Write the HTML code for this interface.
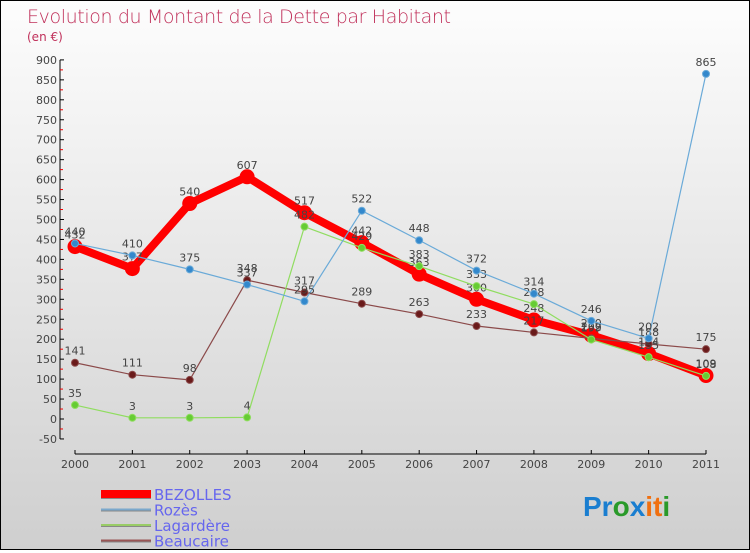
<!DOCTYPE html>
<html><head><meta charset="utf-8"><style>
body{margin:0}
#c{width:748px;height:548px;border:1px solid #000;background:linear-gradient(#fdfdfd,#cfcfcf);position:relative;font-family:"DejaVu Sans","Liberation Sans",sans-serif}
</style></head><body>
<div id="c">
<svg id="s" width="748" height="548">
<text x="26" y="22" font-size="19" fill="#c0305a" font-weight="200" style="font-family:'DejaVu Sans ExtraLight','DejaVu Sans',sans-serif" textLength="424">Evolution du Montant de la Dette par Habitant</text>
<text x="26" y="40" font-size="12" fill="#c0305a">(en €)</text>
</svg>
</div>
<script>
const years=[2000,2001,2002,2003,2004,2005,2006,2007,2008,2009,2010,2011];
const yTicks=[-50,0,50,100,150,200,250,300,350,400,450,500,550,600,650,700,750,800,850,900];
const bezolles=[432,377,540,607,517,442,363,300,248,210,164,109];
const rozes=[440,410,375,337,295,522,448,372,314,246,202,865];
const lagardere=[35,3,3,4,482,429,383,333,288,199,155,108];
const beaucaire=[141,111,98,348,317,289,263,233,217,202,188,175];
const s=document.getElementById('s');const NS='http://www.w3.org/2000/svg';
function X(i){return 74+i*(631/11);}
function Y(v){return 418-v*0.399;}
function mk(t,a,p){const e=document.createElementNS(NS,t);for(const k in a)e.setAttribute(k,a[k]);(p||s).appendChild(e);return e;}
// axes
let ax=mk('line',{x1:59,y1:Y(900),x2:59,y2:Y(-50),stroke:'#000'});

yTicks.forEach(v=>{
 mk('line',{x1:59,y1:Y(v),x2:63,y2:Y(v),stroke:'#000'});
 mk('line',{x1:59,y1:Y(v+25),x2:62,y2:Y(v+25),stroke:v<900?'#e00':'none'});
 const t=mk('text',{x:56,y:Y(v)+4,'text-anchor':'end','font-size':11,fill:'#444'});t.textContent=v;
 
});
let xa=mk('line',{x1:X(0),y1:453,x2:X(11),y2:453,stroke:'#000'});

years.forEach((y,i)=>{mk('line',{x1:X(i),y1:449,x2:X(i),y2:453,stroke:'#000'});
 const t=mk('text',{x:X(i),y:467,'text-anchor':'middle','font-size':11,fill:'#444'});t.textContent=y;
 });
function series(name,vals,col,w,r,dot){
 const g=mk('g',{});
 mk('polyline',{points:vals.map((v,i)=>X(i)+','+Y(v)).join(' '),fill:'none',stroke:col,'stroke-width':w,'stroke-linejoin':'round'},g);
 vals.forEach((v,i)=>{const c=mk('circle',{cx:X(i),cy:Y(v),r:r,fill:dot,stroke:col,'stroke-width':1},g);
  
  const t=mk('text',{x:X(i),y:Y(v)-8,'text-anchor':'middle','font-size':11,fill:'#444'},g);t.textContent=v;
  });
}
series('bezolles',bezolles,'#f00',8,7,'#f00');
series('beaucaire',beaucaire,'#8b4a4a',1.2,3.5,'#6a1a1a');
series('lagardere',lagardere,'#90dd60',1.2,3.5,'#6c3');
series('rozes',rozes,'#6aaad8',1.2,3.5,'#3388cc');
// legend
const leg=[['BEZOLLES','#f00',8],['Rozès','#7aa8cc',2],['Lagardère','#9c6',2],['Beaucaire','#955',2]];
leg.forEach((l,i)=>{const y=493+i*15.5;
 const g=mk('g',{});
 mk('line',{x1:100,y1:y+1,x2:150,y2:y+1,stroke:'#888','stroke-width':l[2]},g);
 mk('line',{x1:100,y1:y,x2:150,y2:y,stroke:l[1],'stroke-width':l[2]},g);
 const t=mk('text',{x:153,y:y+6,'font-size':15,fill:'#66e'},g);t.textContent=l[0];});
// logo
const lg=mk('text',{x:582,y:515,'font-size':28,'font-weight':'bold','font-family':'Liberation Sans, sans-serif'});

[['Pr','#1a7ed0'],['o','#2a9a2a'],['x','#1a7ed0'],['it','#f07010'],['i','#2a9a2a']].forEach(p=>{const ts=mk('tspan',{fill:p[1]},lg);ts.textContent=p[0];});
</script>
</body></html>
